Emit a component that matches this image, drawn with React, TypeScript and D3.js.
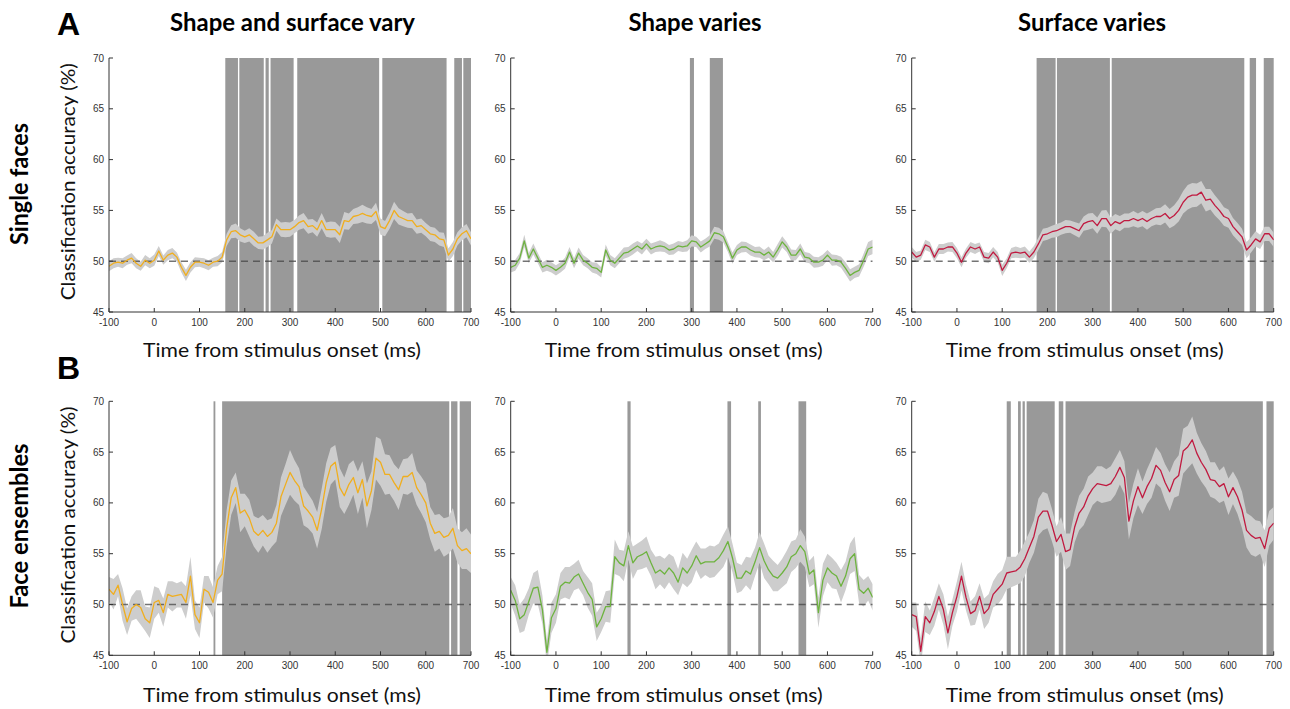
import * as d3 from 'd3';

// time grid, 10 ms steps from -100 to 700 ms
const times = d3.range(-100, 701, 10);

// classification accuracy (%) per panel
const accA1 = [
  49.5, 49.8, 49.9, 49.8, 50.1, 50.3, 49.8, 49.5, 50.1, 49.8,
  50.1, 51.0, 50.1, 50.6, 50.8, 50.4, 49.4, 48.6, 49.4, 49.9,
  49.9, 49.8, 49.6, 49.9, 50.0, 50.4, 52.1, 52.9, 53.0, 52.6,
  52.4, 52.6, 52.2, 51.8, 51.8, 52.1, 52.4, 53.6, 53.1, 53.1,
  53.1, 53.4, 53.8, 54.0, 53.4, 53.5, 53.1, 54.0, 53.1, 53.1,
  53.1, 52.6, 54.0, 53.9, 54.4, 54.5, 54.7, 54.5, 54.4, 54.9,
  53.4, 53.2, 54.0, 55.0, 54.4, 54.2, 54.0, 54.0, 53.4, 53.5,
  53.1, 52.7, 52.6, 52.2, 52.1, 50.6, 51.2, 52.2, 52.7, 53.0,
  52.2,
];
const accA2 = [
  49.4, 49.6, 50.3, 52.0, 50.3, 51.2, 50.3, 49.4, 49.6, 49.4,
  49.1, 49.4, 49.8, 50.9, 49.8, 50.8, 50.1, 49.8, 49.4, 49.3,
  48.9, 51.1, 50.1, 49.8, 50.3, 50.8, 50.9, 51.2, 51.5, 51.2,
  51.7, 51.2, 51.4, 51.5, 51.4, 51.1, 51.2, 51.5, 51.4, 51.5,
  52.0, 51.9, 51.4, 51.7, 52.0, 52.8, 52.7, 52.4, 51.4, 50.3,
  51.1, 51.4, 51.4, 51.1, 50.9, 50.9, 50.6, 50.9, 50.4, 51.1,
  51.9, 51.4, 50.6, 50.6, 51.2, 50.4, 50.3, 49.9, 49.9, 50.1,
  50.6, 50.1, 50.1, 49.9, 49.3, 48.6, 48.9, 49.1, 50.1, 51.2,
  51.4,
];
const accA3 = [
  50.9, 50.4, 50.6, 51.6, 51.4, 50.4, 51.2, 51.2, 51.4, 51.4,
  50.8, 49.9, 50.8, 51.4, 51.2, 51.4, 50.4, 50.3, 50.9, 50.4,
  49.1, 49.8, 50.8, 50.9, 50.8, 50.9, 50.4, 50.9, 51.7, 52.6,
  52.7, 52.9, 53.0, 53.2, 53.4, 53.4, 53.2, 53.0, 53.7, 53.9,
  54.0, 53.5, 54.2, 54.2, 53.5, 53.9, 53.7, 54.0, 54.0, 54.2,
  54.0, 54.2, 53.9, 54.2, 54.4, 54.4, 54.7, 54.2, 54.5, 55.0,
  55.8, 56.3, 56.5, 56.5, 56.8, 56.0, 56.1, 55.5, 55.0, 54.4,
  54.2, 53.4, 52.9, 52.4, 51.1, 51.6, 52.2, 51.9, 52.7, 52.7,
  52.1,
];
const accB1 = [
  51.5, 51.0, 51.9, 50.0, 48.3, 49.6, 50.0, 49.7, 48.6, 48.2,
  50.2, 50.4, 49.2, 51.0, 50.8, 50.9, 51.0, 50.2, 52.8, 49.0,
  48.2, 51.5, 51.2, 50.2, 52.4, 53.0, 57.5, 60.5, 61.5, 59.0,
  59.3, 58.5, 57.2, 56.8, 57.3, 56.7, 57.1, 58.0, 60.6, 61.8,
  63.0, 62.2, 61.6, 59.7, 59.2, 58.6, 57.3, 59.4, 62.0, 63.6,
  64.0, 61.5, 60.7, 61.8, 62.5, 61.0, 62.3, 59.7, 61.2, 64.4,
  64.0, 62.8, 62.8, 62.0, 61.3, 62.6, 62.6, 63.0, 61.5, 60.8,
  60.0, 58.0, 57.0, 57.2, 56.6, 56.8, 57.5, 55.8, 55.3, 55.5,
  55.0,
];
const accB2 = [
  51.4, 50.4, 48.6, 49.0, 50.3, 51.6, 51.7, 49.5, 45.3, 48.7,
  49.6, 51.8, 52.2, 52.1, 52.7, 53.0, 52.1, 51.2, 50.5, 47.8,
  48.6, 49.8, 49.8, 54.7, 54.1, 53.8, 55.8, 54.1, 54.7, 54.9,
  55.2, 54.1, 53.1, 53.4, 53.0, 53.6, 53.1, 52.2, 53.6, 53.1,
  53.8, 54.8, 54.0, 54.2, 54.2, 54.2, 54.6, 55.3, 56.2, 54.6,
  52.6, 52.6, 53.3, 53.0, 54.2, 55.6, 54.3, 53.4, 52.8, 52.6,
  53.1, 53.7, 54.7, 55.0, 55.8, 55.2, 53.0, 53.4, 49.2, 52.4,
  53.6, 53.1, 52.8, 51.8, 52.8, 54.5, 55.0, 51.5, 51.1, 51.6,
  50.7,
];
const accB3 = [
  49.0, 48.8, 45.4, 48.8, 48.2, 49.3, 50.8, 49.5, 47.2, 49.2,
  50.8, 52.8, 50.7, 49.1, 49.4, 50.8, 49.1, 49.6, 51.0, 51.5,
  52.0, 53.1, 53.2, 53.3, 53.7, 54.5, 55.6, 56.7, 58.6, 59.2,
  59.2, 57.8, 56.2, 56.9, 55.2, 55.4, 57.6, 59.0, 59.6, 60.7,
  61.4, 61.9, 61.8, 61.7, 61.9, 62.6, 63.5, 62.5, 58.2, 60.2,
  61.6, 60.5, 61.6, 62.4, 63.7, 63.2, 62.0, 61.1, 62.3, 62.7,
  65.1, 65.5, 66.2, 64.9, 64.0, 63.3, 62.3, 62.2, 61.6, 61.9,
  60.6, 61.5, 60.6, 59.3, 57.3, 56.8, 56.5, 56.6, 55.5, 57.5,
  58.0,
];

// half-width of the grey error band
const semA1 = [
  0.5, 0.5, 0.45, 0.5, 0.45, 0.5, 0.5, 0.45, 0.5, 0.5,
  0.55, 0.5, 0.45, 0.5, 0.5, 0.45, 0.5, 0.55, 0.5, 0.5,
  0.45, 0.5, 0.5, 0.45, 0.5, 0.5, 0.6, 0.65, 0.7, 0.65,
  0.6, 0.65, 0.7, 0.6, 0.65, 0.7, 0.65, 0.6, 0.7, 0.75,
  0.7, 0.65, 0.7, 0.75, 0.7, 0.65, 0.7, 0.75, 0.7, 0.8,
  0.75, 0.8, 0.85, 0.8, 0.75, 0.8, 0.85, 0.8, 0.75, 0.85,
  0.8, 0.75, 0.8, 0.85, 0.8, 0.75, 0.7, 0.75, 0.7, 0.7,
  0.65, 0.7, 0.7, 0.65, 0.7, 0.65, 0.7, 0.65, 0.65, 0.65,
  0.65,
];
const semA2 = [
  0.5, 0.55, 0.5, 0.6, 0.5, 0.55, 0.5, 0.5, 0.55, 0.5,
  0.5, 0.5, 0.55, 0.5, 0.5, 0.55, 0.5, 0.5, 0.5, 0.55,
  0.5, 0.55, 0.5, 0.5, 0.5, 0.55, 0.5, 0.55, 0.5, 0.55,
  0.5, 0.55, 0.5, 0.55, 0.5, 0.5, 0.55, 0.5, 0.5, 0.55,
  0.55, 0.5, 0.55, 0.5, 0.55, 0.6, 0.6, 0.55, 0.5, 0.55,
  0.5, 0.55, 0.5, 0.55, 0.5, 0.55, 0.5, 0.55, 0.5, 0.6,
  0.55, 0.5, 0.55, 0.5, 0.55, 0.5, 0.5, 0.55, 0.5, 0.55,
  0.5, 0.55, 0.5, 0.55, 0.6, 0.6, 0.55, 0.6, 0.65, 0.7,
  0.7,
];
const semA3 = [
  0.5, 0.5, 0.45, 0.5, 0.5, 0.45, 0.5, 0.5, 0.45, 0.5,
  0.5, 0.5, 0.45, 0.5, 0.5, 0.45, 0.5, 0.5, 0.5, 0.5,
  0.55, 0.5, 0.5, 0.55, 0.5, 0.55, 0.55, 0.6, 0.6, 0.6,
  0.6, 0.6, 0.65, 0.6, 0.65, 0.6, 0.65, 0.7, 0.7, 0.8,
  0.75, 0.8, 0.8, 0.85, 0.8, 0.75, 0.75, 0.7, 0.7, 0.75,
  0.7, 0.75, 0.8, 0.75, 0.8, 0.85, 0.9, 0.95, 1.0, 1.1,
  1.1, 1.2, 1.2, 1.15, 1.1, 1.1, 1.0, 1.0, 0.95, 0.9,
  0.9, 0.85, 0.85, 0.8, 0.8, 0.75, 0.75, 0.7, 0.7, 0.7,
  0.7,
];
const semB1 = [
  1.2, 1.5, 1.1, 1.6, 1.3, 1.2, 1.4, 1.7, 1.2, 1.5,
  1.6, 1.2, 1.4, 1.3, 1.5, 1.2, 1.3, 1.6, 1.9, 1.4,
  1.5, 1.3, 1.6, 1.5, 1.4, 1.7, 1.8, 1.7, 1.5, 1.9,
  1.6, 1.8, 1.5, 1.7, 1.5, 1.6, 1.4, 1.8, 1.9, 2.0,
  2.2, 2.0, 1.8, 1.9, 1.7, 1.6, 1.8, 2.0, 1.9, 1.8,
  1.7, 1.9, 1.8, 2.0, 1.7, 2.1, 1.8, 2.2, 1.9, 2.1,
  2.3, 2.0, 1.9, 1.8, 2.0, 1.7, 1.8, 1.9, 1.7, 1.8,
  1.9, 1.6, 1.8, 1.7, 1.9, 1.8, 2.0, 1.7, 1.8, 2.0,
  1.9,
];
const semB2 = [
  1.3, 1.5, 1.4, 1.6, 1.3, 1.5, 1.7, 1.4, 1.2, 1.5,
  1.4, 1.3, 1.5, 1.6, 1.3, 1.4, 1.2, 1.5, 1.6, 1.4,
  1.3, 1.5, 1.6, 1.7, 1.3, 1.5, 1.4, 1.6, 1.3, 1.4,
  1.5, 1.3, 1.6, 1.4, 1.5, 1.4, 1.6, 1.3, 1.5, 1.4,
  1.6, 1.4, 1.5, 1.3, 1.6, 1.5, 1.4, 1.6, 1.5, 1.4,
  1.5, 1.3, 1.4, 1.6, 1.4, 1.5, 1.7, 1.4, 1.5, 1.3,
  1.4, 1.6, 1.5, 1.4, 1.6, 1.5, 1.3, 1.4, 1.5, 1.6,
  1.4, 1.5, 1.3, 1.6, 1.4, 1.5, 1.7, 1.4, 1.3, 1.2,
  1.3,
];
const semB3 = [
  1.2, 1.4, 1.3, 1.5, 1.2, 1.4, 1.3, 1.5, 1.6, 1.3,
  1.5, 1.4, 1.3, 1.2, 1.4, 1.3, 1.5, 1.4, 1.3, 1.5,
  1.4, 1.6, 1.5, 1.4, 1.6, 1.7, 1.5, 1.6, 1.8, 1.9,
  1.7, 1.6, 1.5, 1.7, 1.8, 1.6, 1.5, 1.7, 1.8, 1.9,
  1.6, 1.7, 1.8, 1.6, 1.7, 1.8, 1.7, 1.6, 1.8, 1.7,
  1.8, 1.6, 1.7, 1.9, 1.8, 1.7, 1.8, 1.9, 1.8, 2.0,
  2.2, 2.1, 2.3, 2.0, 1.9, 1.8, 1.7, 1.8, 1.6, 1.7,
  1.8, 1.6, 1.7, 1.8, 1.7, 1.9, 1.8, 1.6, 1.8, 1.7,
  1.6,
];

// significant time windows (ms), drawn as dark grey bars
const sigA1 = [[157, 185], [188, 242], [246, 253], [257, 308], [316, 497], [504, 646], [663, 680], [683, 700]];
const sigA2 = [[296, 305], [340, 369]];
const sigA3 = [[176, 218], [221, 338], [342, 635], [647, 661], [678, 700]];
const sigB1 = [[131, 135], [150, 652], [656, 670], [675, 700]];
const sigB2 = [[158, 165], [379, 387], [447, 453], [536, 553]];
const sigB3 = [[110, 119], [135, 141], [145, 150], [154, 216], [225, 235], [240, 676], [684, 700]];

const colTitles = ['Shape and surface vary', 'Shape varies', 'Surface varies'];
const rowTitles = ['Single faces', 'Face ensembles'];
const xTicks = [-100, 0, 100, 200, 300, 400, 500, 600, 700];
const yTicks = [45, 50, 55, 60, 65, 70];

const W = 1290;
const H = 709;
const colLeft = [109, 510.7, 911.7];
const rowTop = [58, 401.3];
const PW = 362;
const PH = 254;
const ORANGE = '#f0ae1e';
const GREEN = '#6db33f';
const RED = '#c01a40';

const panels = [
  { row: 0, col: 0, acc: accA1, sem: semA1, sig: sigA1, color: ORANGE },
  { row: 0, col: 1, acc: accA2, sem: semA2, sig: sigA2, color: GREEN },
  { row: 0, col: 2, acc: accA3, sem: semA3, sig: sigA3, color: RED },
  { row: 1, col: 0, acc: accB1, sem: semB1, sig: sigB1, color: ORANGE },
  { row: 1, col: 1, acc: accB2, sem: semB2, sig: sigB2, color: GREEN },
  { row: 1, col: 2, acc: accB3, sem: semB3, sig: sigB3, color: RED },
];

const tickFont = '"Liberation Sans", Arial, sans-serif';
const labelFont = 'Lato, "Open Sans", sans-serif';

function Panel({ p, idx }) {
  const left = colLeft[p.col];
  const top = rowTop[p.row];
  const x = d3.scaleLinear().domain([-100, 700]).range([left, left + PW]);
  const y = d3.scaleLinear().domain([45, 70]).range([top + PH, top]);

  const area = d3.area()
    .x((d, i) => x(times[i]))
    .y0((d, i) => y(d - p.sem[i]))
    .y1((d, i) => y(d + p.sem[i]));
  const line = d3.line()
    .x((d, i) => x(times[i]))
    .y((d) => y(d));

  const clipId = `clip-${idx}`;
  const bottom = top + PH;

  return (
    <g>
      <defs>
        <clipPath id={clipId}>
          <rect x={left} y={top} width={PW} height={PH} />
        </clipPath>
      </defs>
      {p.sig.map(([a, b], i) => (
        <rect key={i} x={x(a)} y={top} width={x(b) - x(a)} height={PH} fill="#999999" />
      ))}
      <g clipPath={`url(#${clipId})`}>
        <path d={area(p.acc)} fill="#cdcdcd" />
        <line x1={x(-100)} x2={x(700)} y1={y(50)} y2={y(50)}
          stroke="rgba(70,70,70,0.75)" strokeWidth={1.5} strokeDasharray="7,5" />
        <path d={line(p.acc)} fill="none" stroke={p.color} strokeWidth={1.3} strokeLinejoin="round" />
      </g>
      {/* axes, MATLAB-style inward ticks */}
      <line x1={left} x2={left} y1={top} y2={bottom} stroke="#333" strokeWidth={1} />
      <line x1={left} x2={left + PW} y1={bottom} y2={bottom} stroke="#333" strokeWidth={1} />
      {yTicks.map((t) => (
        <g key={t}>
          <line x1={left} x2={left + 4} y1={y(t)} y2={y(t)} stroke="#333" />
          <text x={left - 5} y={y(t) + 3.5} textAnchor="end" fontFamily={tickFont} fontSize={10} fill="#333">{t}</text>
        </g>
      ))}
      {xTicks.map((t) => (
        <g key={t}>
          <line x1={x(t)} x2={x(t)} y1={bottom} y2={bottom - 4} stroke="#333" />
          <text x={x(t)} y={bottom + 14} textAnchor="middle" fontFamily={tickFont} fontSize={10} fill="#333">{t}</text>
        </g>
      ))}
      <text x={left + 173} y={p.row === 0 ? 356.5 : 701.5} textAnchor="middle" fontFamily={labelFont}
        fontSize={20} fill="#111" textLength={278} lengthAdjust="spacingAndGlyphs">
        Time from stimulus onset (ms)
      </text>
      {p.col === 0 && (
        <text transform={`translate(75,${p.row === 0 ? 181.7 : 525}) rotate(-90)`} textAnchor="middle"
          fontFamily={labelFont} fontSize={20} fill="#111" textLength={237} lengthAdjust="spacingAndGlyphs">
          Classification accuracy (%)
        </text>
      )}
    </g>
  );
}

export default function App() {
  const colCenters = [292.5, 695, 1092];
  const colWidths = [245, 133, 148];
  return (
    <div style={{ position: 'absolute', left: 0, top: 0 }}>
      <svg width={W} height={H} style={{ display: 'block', background: '#fff' }}>
        <text x={57} y={35} fontFamily={tickFont} fontWeight="bold" fontSize={32} fill="#000">A</text>
        <text x={57} y={379} fontFamily={tickFont} fontWeight="bold" fontSize={32} fill="#000">B</text>
        {colTitles.map((t, i) => (
          <text key={t} x={colCenters[i]} y={31} textAnchor="middle" fontFamily={labelFont} fontWeight="bold"
            fontSize={24} fill="#000" textLength={colWidths[i]} lengthAdjust="spacingAndGlyphs">{t}</text>
        ))}
        <text transform="translate(28,184) rotate(-90)" textAnchor="middle" fontFamily={labelFont} fontWeight="bold"
          fontSize={24} fill="#000" textLength={122} lengthAdjust="spacingAndGlyphs">{rowTitles[0]}</text>
        <text transform="translate(28,526) rotate(-90)" textAnchor="middle" fontFamily={labelFont} fontWeight="bold"
          fontSize={24} fill="#000" textLength={165} lengthAdjust="spacingAndGlyphs">{rowTitles[1]}</text>
        {panels.map((p, i) => (
          <Panel key={i} p={p} idx={i} />
        ))}
      </svg>
    </div>
  );
}
